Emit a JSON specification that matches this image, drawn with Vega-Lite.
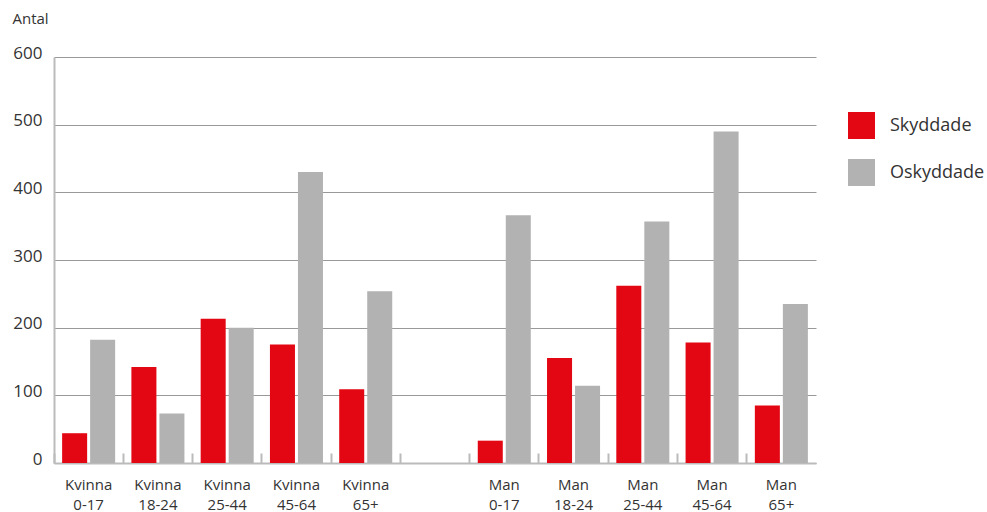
{
  "$schema": "https://vega.github.io/schema/vega-lite/v6.json",
  "autosize": {"type": "none"},
  "padding": {"left": 54, "top": 57, "right": 171, "bottom": 49},
  "width": 762,
  "height": 406,
  "background": "white",
  "config": {
    "font": "Open Sans",
    "view": {"stroke": null},
    "axis": {"labelColor": "#333333", "titleColor": "#333333"}
  },
  "data": {
    "values": [
      {"grupp": "Kvinna|0-17", "typ": "Skyddade", "antal": 44},
      {"grupp": "Kvinna|0-17", "typ": "Oskyddade", "antal": 182},
      {"grupp": "Kvinna|18-24", "typ": "Skyddade", "antal": 142},
      {"grupp": "Kvinna|18-24", "typ": "Oskyddade", "antal": 73},
      {"grupp": "Kvinna|25-44", "typ": "Skyddade", "antal": 213},
      {"grupp": "Kvinna|25-44", "typ": "Oskyddade", "antal": 200},
      {"grupp": "Kvinna|45-64", "typ": "Skyddade", "antal": 175},
      {"grupp": "Kvinna|45-64", "typ": "Oskyddade", "antal": 430},
      {"grupp": "Kvinna|65+", "typ": "Skyddade", "antal": 109},
      {"grupp": "Kvinna|65+", "typ": "Oskyddade", "antal": 254},
      {"grupp": "Man|0-17", "typ": "Skyddade", "antal": 33},
      {"grupp": "Man|0-17", "typ": "Oskyddade", "antal": 366},
      {"grupp": "Man|18-24", "typ": "Skyddade", "antal": 155},
      {"grupp": "Man|18-24", "typ": "Oskyddade", "antal": 114},
      {"grupp": "Man|25-44", "typ": "Skyddade", "antal": 262},
      {"grupp": "Man|25-44", "typ": "Oskyddade", "antal": 357},
      {"grupp": "Man|45-64", "typ": "Skyddade", "antal": 178},
      {"grupp": "Man|45-64", "typ": "Oskyddade", "antal": 490},
      {"grupp": "Man|65+", "typ": "Skyddade", "antal": 85},
      {"grupp": "Man|65+", "typ": "Oskyddade", "antal": 235}
    ]
  },
  "mark": {"type": "bar"},
  "encoding": {
    "x": {
      "field": "grupp",
      "type": "nominal",
      "scale": {
        "domain": ["Kvinna|0-17", "Kvinna|18-24", "Kvinna|25-44", "Kvinna|45-64", "Kvinna|65+", " ", "Man|0-17", "Man|18-24", "Man|25-44", "Man|45-64", "Man|65+"],
        "paddingInner": 0,
        "paddingOuter": 0
      },
      "axis": {
        "title": null,
        "bandPosition": 0,
        "labelAngle": 0,
        "labelExpr": "split(datum.label, '|')",
        "labelAlign": "center",
        "labelBaseline": "top",
        "labelFontSize": 15,
        "labelLineHeight": 20,
        "labelPadding": 24,
        "tickSize": -10,
        "tickColor": "#bbbbbb",
        "tickWidth": 2,
        "domainColor": "#bbbbbb",
        "domainWidth": 2,
        "grid": false
      }
    },
    "xOffset": {
      "field": "typ",
      "type": "nominal",
      "sort": ["Skyddade", "Oskyddade"],
      "scale": {"paddingInner": 0.107, "paddingOuter": 0.29}
    },
    "y": {
      "field": "antal",
      "type": "quantitative",
      "scale": {"domain": [0, 600], "nice": false},
      "axis": {
        "title": "Antal",
        "titleAngle": 0,
        "titleAlign": "left",
        "titleBaseline": "alphabetic",
        "titleX": -42,
        "titleY": -34,
        "titleFontSize": 15,
        "titleFontWeight": "normal",
        "values": [0, 100, 200, 300, 400, 500, 600],
        "ticks": false,
        "labelFontSize": 17,
        "labelPadding": 12,
        "labelOffset": -4,
        "domainColor": "#bbbbbb",
        "domainWidth": 2,
        "gridColor": "#999999",
        "gridWidth": 1
      }
    },
    "color": {
      "field": "typ",
      "type": "nominal",
      "sort": ["Skyddade", "Oskyddade"],
      "scale": {"domain": ["Skyddade", "Oskyddade"], "range": ["#e30613", "#b2b2b2"]},
      "legend": {
        "title": null,
        "orient": "none",
        "legendX": 794,
        "legendY": 55,
        "symbolType": "square",
        "symbolSize": 729,
        "symbolStrokeWidth": 0,
        "symbolOpacity": 1,
        "labelFontSize": 18,
        "labelColor": "#333333",
        "labelOffset": 15,
        "rowPadding": 20,
        "padding": 0
      }
    }
  }
}
